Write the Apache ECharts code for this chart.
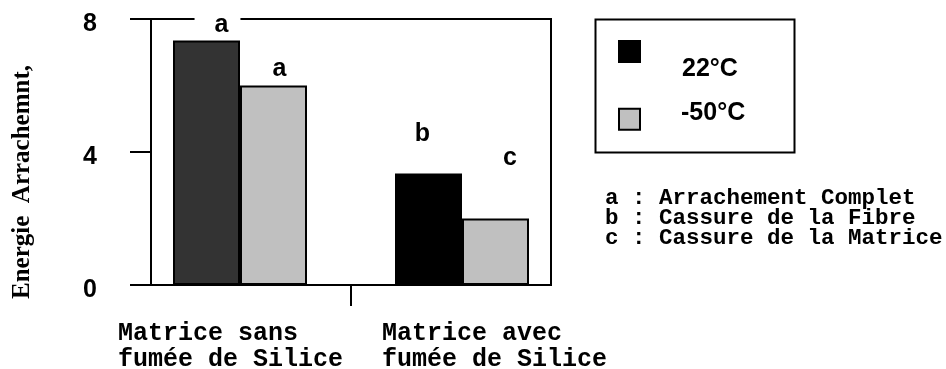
<!DOCTYPE html>
<html>
<head>
<meta charset="utf-8">
<script src="https://cdn.jsdelivr.net/npm/echarts@6/dist/echarts.min.js"></script>
<style>
  html, body { margin: 0; padding: 0; background: #fff; }
  #chart { width: 946px; height: 369px; }
</style>
</head>
<body>
<div id="chart"></div>
<script>
// Pull-out energy of the fibre, by matrix type and test temperature
const categories = ['Matrice sans\nfumée de Silice', 'Matrice avec\nfumée de Silice'];
const seriesNames = ['22°C', '-50°C'];
const energy22 = [7.35, 3.35];
const energyMinus50 = [6.0, 2.0];
const failureLetters22 = ['a', 'b'];
const failureLettersMinus50 = ['a', 'c'];
const failureKey = ['a : Arrachement Complet', 'b : Cassure de la Fibre', 'c : Cassure de la Matrice'];
const yAxisTitle = 'Energie  Arrachemnt,';
const yMin = 0, yMax = 8, yStep = 4;

// styling
const SANS = 'Liberation Sans, Arial, sans-serif';
const MONO = 'Liberation Mono, Courier New, monospace';
const SERIF = 'Liberation Serif, Times New Roman, serif';
const colors22 = ['#333333', '#000000'];
const colorMinus50 = '#c0c0c0';
const labelOffsets22 = [[11, -3.5], [-6, -27.5]];
const labelOffsetsMinus50 = [[6, -4], [14.5, -47.5]];
const catPadding = [[0, 19, 0, 0], [0, 0, 0, 65]];
const legendTextPadding = [[36, 0, 0, 37], [0, 0, 11.4, 36]];
const legendTops = [40, 101];

const letterLabel = {
  show: true, position: 'top', distance: 0,
  color: '#000', fontFamily: SANS, fontWeight: 'bold', fontSize: 25
};

function barData(values, letters, offsets, colorsPerItem) {
  return values.map((v, i) => {
    const item = {
      value: v,
      label: Object.assign({}, letterLabel, {
        formatter: letters[i],
        offset: offsets[i]
      })
    };
    if (colorsPerItem) item.itemStyle = { color: colorsPerItem[i] };
    return item;
  });
}

const data22 = barData(energy22, failureLetters22, labelOffsets22, colors22);
// the top "a" sits on the frame, blanking it out behind the letter
data22[0].label.backgroundColor = '#fff';
data22[0].label.padding = [0, 12, 0, 20];
const dataMinus50 = barData(energyMinus50, failureLettersMinus50, labelOffsetsMinus50, null);

const legends = seriesNames.map((name, i) => ({
  data: [name], orient: 'vertical', left: 618, top: legendTops[i], padding: 0,
  icon: 'rect', itemWidth: 21, itemHeight: 21, selectedMode: false,
  formatter: '{t|{name}}',
  textStyle: {
    color: '#000',
    rich: { t: { fontFamily: SANS, fontWeight: 'bold', fontSize: 25, color: '#000', padding: legendTextPadding[i] } }
  }
}));

const chart = echarts.init(document.getElementById('chart'), null, { renderer: 'canvas' });

chart.setOption({
  animation: false,
  backgroundColor: '#fff',
  title: {
    text: failureKey.join('\n'),
    left: 605, top: 188, padding: 0,
    textStyle: { fontFamily: MONO, fontWeight: 'bold', fontSize: 22.5, lineHeight: 20, color: '#000' }
  },
  legend: legends,
  graphic: [{
    type: 'rect', left: 593, top: 17, z: -1,
    shape: { width: 199, height: 133 },
    style: { fill: 'none', stroke: '#000', lineWidth: 2 }
  }],
  grid: [
    // frame and axes
    { left: 151, right: 395, top: 19, bottom: 84, show: true, borderColor: '#000', borderWidth: 2,
      backgroundColor: 'transparent', containLabel: false, outerBoundsMode: 'none' },
    // bars
    { left: 129, right: 373, top: 19, bottom: 84, containLabel: false, outerBoundsMode: 'none' }
  ],
  xAxis: [
    {
      gridIndex: 0, type: 'value', min: 0, max: 2, interval: 1,
      axisLine: { show: true, lineStyle: { color: '#000', width: 2 } },
      axisTick: { show: true, length: 21, customValues: [1], lineStyle: { color: '#000', width: 2 } },
      axisLabel: { show: false }, splitLine: { show: false }
    },
    {
      gridIndex: 1, type: 'category',
      data: categories.map((c, i) => ({ value: c, textStyle: { padding: catPadding[i] } })),
      axisLine: { show: false }, axisTick: { show: false }, splitLine: { show: false },
      axisLabel: {
        interval: 0, margin: 36, color: '#000',
        formatter: v => v.split('\n').map(s => '{l|' + s + '}').join('\n'),
        rich: { l: { align: 'left', fontFamily: MONO, fontWeight: 'bold', fontSize: 25, lineHeight: 26, color: '#000' } }
      }
    }
  ],
  yAxis: [
    {
      gridIndex: 0, type: 'value', min: yMin, max: yMax, interval: yStep,
      name: yAxisTitle, nameLocation: 'middle', nameRotate: 90, nameGap: 116, nameMoveOverlap: false,
      nameTextStyle: { fontFamily: SERIF, fontWeight: 'bold', fontSize: 25, color: '#000', padding: [0, 60, 0, 0] },
      axisLine: { show: true, lineStyle: { color: '#000', width: 2 } },
      axisTick: { show: true, length: 21, lineStyle: { color: '#000', width: 2 } },
      axisLabel: {
        margin: 54, color: '#000',
        formatter: '{v|{value}}',
        rich: { v: { fontFamily: SANS, fontWeight: 'bold', fontSize: 25, color: '#000', padding: [10, 0, 0, 0] } }
      },
      splitLine: { show: false }
    },
    {
      gridIndex: 1, type: 'value', min: yMin, max: yMax, interval: yStep, show: false,
      splitLine: { show: false }
    }
  ],
  series: [
    {
      name: seriesNames[0], type: 'bar', xAxisIndex: 1, yAxisIndex: 1,
      barWidth: 67, barGap: '0%',
      itemStyle: { color: '#000', borderColor: '#000', borderWidth: 2 },
      data: data22
    },
    {
      name: seriesNames[1], type: 'bar', xAxisIndex: 1, yAxisIndex: 1,
      barWidth: 67, barGap: '0%',
      itemStyle: { color: colorMinus50, borderColor: '#000', borderWidth: 2 },
      data: dataMinus50
    }
  ]
});
</script>
</body>
</html>
